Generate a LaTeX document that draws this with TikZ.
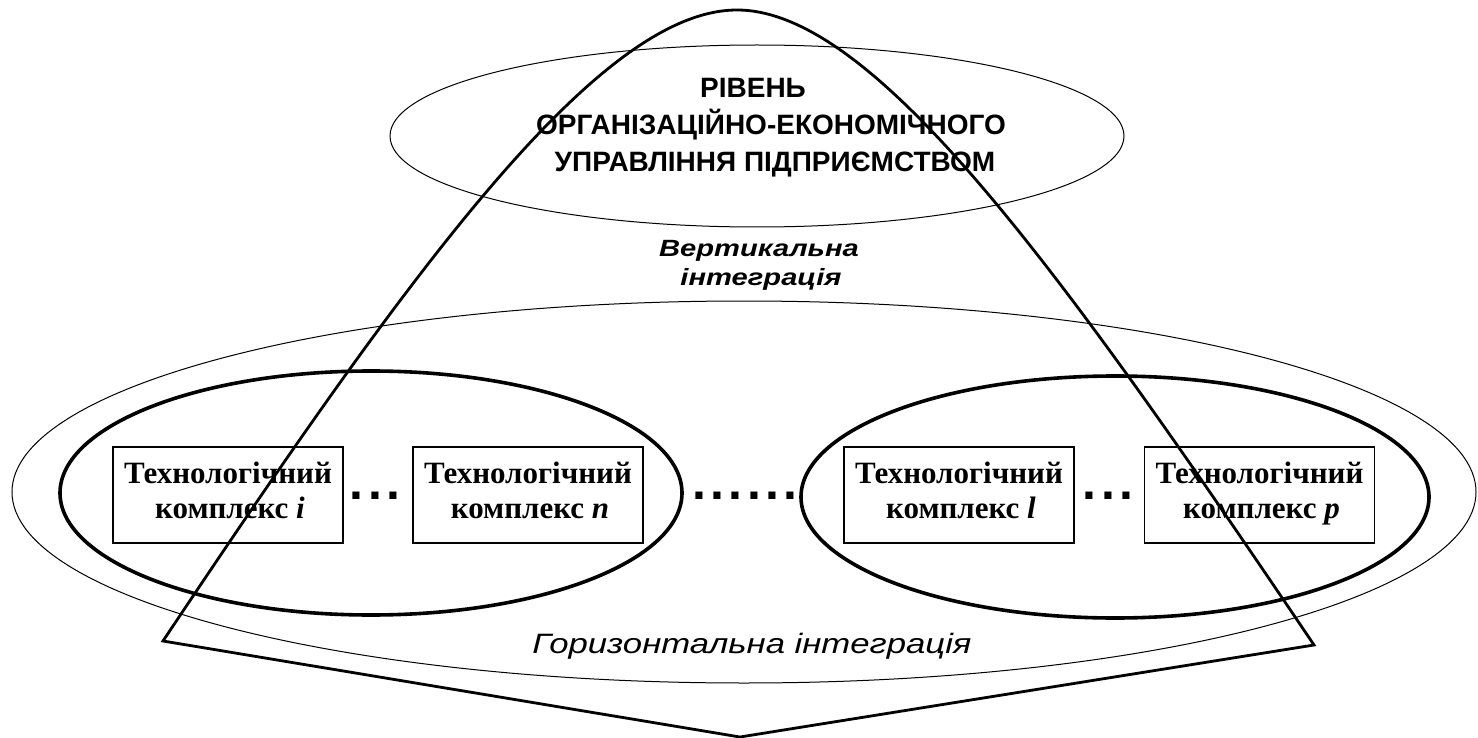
\documentclass[tikz,border=0pt]{standalone}
\usepackage{fontspec}
\newfontfamily\headfont{Liberation Sans}
\newfontfamily\widefont[FakeStretch=1.24]{Liberation Sans}
\newfontfamily\cellfont{Liberation Serif}
\begin{document}
\begin{tikzpicture}[x=1pt,y=-1pt,
  hairline/.style={line width=1pt},
  ring/.style={line width=3.6pt},
  cone/.style={line width=2.8pt, line join=miter},
  cell/.style={draw, line width=1.4pt, minimum width=230pt, minimum height=96pt,
    inner sep=0pt, align=center,
    font=\cellfont\bfseries\fontsize{31pt}{35pt}\selectfont},
  headline/.style={anchor=base, inner sep=0pt,
    font=\headfont\bfseries\fontsize{28pt}{37pt}\selectfont},
  vlabel/.style={anchor=base, inner sep=0pt,
    font=\widefont\bfseries\itshape\fontsize{23.5pt}{28pt}\selectfont},
  hlabel/.style={anchor=base, inner sep=0pt,
    font=\widefont\itshape\fontsize{28pt}{34pt}\selectfont},
  dotrow/.style={inner sep=0pt, anchor=base,
    font=\headfont\bfseries\fontsize{50pt}{50pt}\selectfont}
]
\useasboundingbox (0,0) rectangle (1478,738);

% level of management and the two integration rings
\draw[hairline] (757,136) ellipse [x radius=367, y radius=91];
\draw[hairline] (744,492) ellipse [x radius=732, y radius=191];
\draw[ring] (371,493) ellipse [x radius=311, y radius=122];
\draw[ring] (1115,497) ellipse [x radius=314, y radius=121];

% technological complexes (the strut keeps every second line at the same depth)
\node[cell] (c1) at (228,495) {Технологічний\\\hspace*{4pt}комплекс\ \textit{i}\strut};
\node[cell] (c2) at (528,495) {Технологічний\\\hspace*{4pt}комплекс\ \textit{n}\strut};
\node[cell] (c3) at (959,495) {Технологічний\\\hspace*{4pt}комплекс\ \textit{l}\strut};
\node[cell] (c4) at (1259.5,495) {Технологічний\\\hspace*{4pt}комплекс\ \textit{p}\strut};

% dot rows between the complexes and between the rings
\node[dotrow] (d1) at (375,499) {.\hspace{5pt}.\hspace{5pt}.};
\node[dotrow] (d2) at (745,499) {.\hspace{4.3pt}.\hspace{4.3pt}.\hspace{4.3pt}.\hspace{4.3pt}.\hspace{4.3pt}.};
\node[dotrow] (d3) at (1108,499) {.\hspace{5pt}.\hspace{5pt}.};

% texts
\node[headline] (lvl1) at (753,98) {РІВЕНЬ};
\node[headline] (lvl2) at (771,135) {ОРГАНІЗАЦІЙНО-ЕКОНОМІЧНОГО};
\node[headline] (lvl3) at (775,172) {УПРАВЛІННЯ ПІДПРИЄМСТВОМ};
\node[vlabel] (vert1) at (759,257) {Вертикальна};
\node[vlabel] (vert2) at (761,285) {інтеграція};
\node[hlabel] (horiz) at (752,653) {Горизонтальна інтеграція};

% vertical integration cone
\coordinate (coneL) at (163,641);
\coordinate (coneTop) at (737,10);
\coordinate (coneR) at (1314,645);
\coordinate (coneBot) at (740,737);
\draw[cone] (coneL) .. controls (413,266) and (600,10) .. (coneTop)
  .. controls (874,10) and (1061,270) .. (coneR) -- (coneBot) -- cycle;
\end{tikzpicture}
\end{document}
